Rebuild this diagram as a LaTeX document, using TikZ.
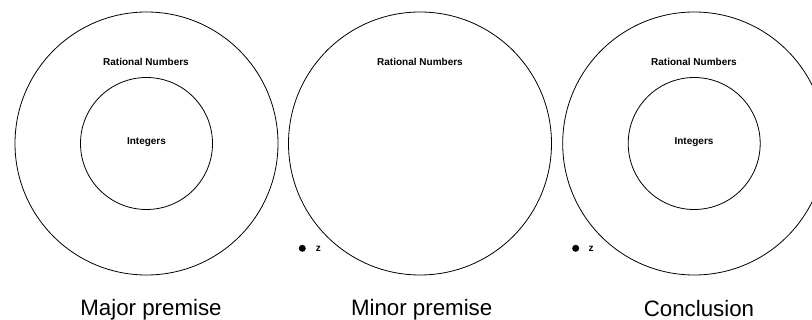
\documentclass[tikz,border=0pt]{standalone}
\usepackage{fontspec}
\setmainfont{Liberation Sans}
\begin{document}
\begin{tikzpicture}[x=1pt,y=-1pt,
  ring/.style={circle,draw,line width=0.8pt,inner sep=0pt},
  small/.style={font=\bfseries\fontsize{10}{12}\selectfont,inner sep=0pt,anchor=base},
  caption/.style={font=\fontsize{22.3}{26}\selectfont,inner sep=0pt,anchor=base},
  dotmark/.style={circle,fill,inner sep=0pt,minimum size=7pt}]
\useasboundingbox (0,0) rectangle (812,320);
\clip (0,0) rectangle (812,320);
% Major premise
\node[ring,minimum size=263pt] (o1) at (146.5,143.5) {};
\node[ring,minimum size=132pt] (i1) at (146.5,143.5) {};
\node[small] (r1) at (146,65.7) {Rational Numbers};
\node[small] (n1) at (146.5,144.5) {Integers};
\node[caption] (c1) at (151,315.5) {Major premise};
% Minor premise
\node[ring,minimum size=263pt] (o2) at (420,143.5) {};
\node[small] (r2) at (420,65.7) {Rational Numbers};
\node[dotmark] (d2) at (302.3,248.3) {};
\node[small] (z2) at (318.3,251.5) {z};
\node[caption] (c2) at (421.7,315.5) {Minor premise};
% Conclusion
\node[ring,minimum size=263pt] (o3) at (694.2,143.5) {};
\node[ring,minimum size=132pt] (i3) at (694.2,143.5) {};
\node[small] (r3) at (694,65.7) {Rational Numbers};
\node[small] (n3) at (694,144.5) {Integers};
\node[dotmark] (d3) at (575.7,248.3) {};
\node[small] (z3) at (591,251.5) {z};
\node[caption] (c3) at (699,316.5) {Conclusion};
\end{tikzpicture}
\end{document}
